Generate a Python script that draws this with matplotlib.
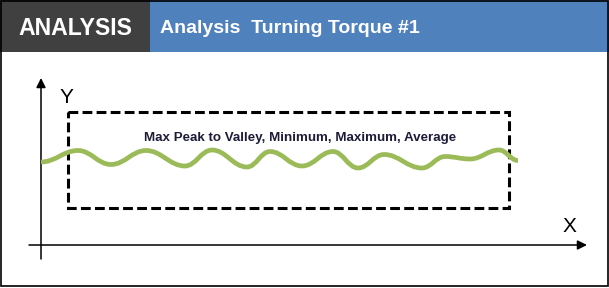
import matplotlib
matplotlib.use("Agg")
import matplotlib.pyplot as plt
from matplotlib.patches import Rectangle, PathPatch
from matplotlib.path import Path
from matplotlib.transforms import Affine2D

W, H = 609, 288

# Header texts
badge_text = "ANALYSIS"
title_text = "Analysis  Turning Torque #1"
note_text = "Max Peak to Valley, Minimum, Maximum, Average"
x_label = "X"
y_label = "Y"

# Torque trace turning points (x along the X axis, y above the X axis)
wave_x = [0, 37, 70, 105, 144, 171, 206, 229, 261, 292, 317, 343, 381, 404,
          429, 458, 477]
wave_y = [83, 94.5, 80.5, 94.5, 79, 95, 78, 93.5, 79, 93.5, 77, 90.5, 77,
          88.5, 86, 95, 84.5]

# Evaluation window [x0, x1] x [y0, y1]
window_x = [26.7, 468]
window_y = [37, 133]

DARK = "#404040"
BLUE = "#4F81BD"
GREEN = "#9BBB59"
FONT = "Liberation Sans"

fig = plt.figure(figsize=(W / 100, H / 100), dpi=100)
fig.patch.set_facecolor("white")

# pixel transform with top-left origin for the frame and header
px = Affine2D().scale(1 / W, -1 / H).translate(0, 1) + fig.transFigure

fig.add_artist(Rectangle((0, 0), 150, 52, transform=px, facecolor=DARK,
                         edgecolor="none"))
fig.add_artist(Rectangle((150, 0), W - 150, 52, transform=px, facecolor=BLUE,
                         edgecolor="none"))
fig.add_artist(Rectangle((0.6, 0.8), 607.8, 285.6, transform=px,
                         facecolor="none", edgecolor="black", lw=1.2))

fig.text(75, 35, badge_text, transform=px, ha="center", va="baseline",
         color="white", fontsize=16.6, fontweight="bold", family=FONT)
fig.text(160.5, 33, title_text, transform=px, ha="left", va="baseline",
         color="white", fontsize=14, fontweight="bold", family=FONT)

# chart area: origin where the axes cross
ax = fig.add_axes([0, 0, 1, 1])
ax.set_xlim(-41, W - 41)
ax.set_ylim(245 - H, 245)
ax.axis("off")

# axes with arrow heads
ax.annotate("", xy=(0, 167), xytext=(0, -14),
            arrowprops=dict(arrowstyle="-|>", lw=1.1, color="black",
                            mutation_scale=14, shrinkA=0, shrinkB=0))
ax.annotate("", xy=(546, 0), xytext=(-12, 0),
            arrowprops=dict(arrowstyle="-|>", lw=1.1, color="black",
                            mutation_scale=14, shrinkA=0, shrinkB=0))
ax.text(25, 142, y_label, ha="center", va="baseline", fontsize=15,
        family=FONT, color="black")
ax.text(528, 13.3, x_label, ha="center", va="baseline", fontsize=15,
        family=FONT, color="black")

# evaluation window
ax.plot([window_x[0], window_x[1], window_x[1], window_x[0], window_x[0]],
        [window_y[1], window_y[1], window_y[0], window_y[0], window_y[1]],
        color="black", lw=2.2, linestyle=(0, (3.2, 1.4)),
        solid_joinstyle="miter", dash_joinstyle="miter", zorder=2)

ax.text(259.5, 104, note_text, ha="center", va="baseline", fontsize=9.6,
        fontweight="bold", family=FONT, color="#1c1c38", zorder=4)

# torque trace: smooth cubic segments between turning points,
# level tangents at every turning point
verts = [(wave_x[0], wave_y[0])]
codes = [Path.MOVETO]
for i in range(1, len(wave_x)):
    x0, y0 = wave_x[i - 1], wave_y[i - 1]
    x1, y1 = wave_x[i], wave_y[i]
    k = 0.4 * (x1 - x0)
    verts += [(x0 + k, y0), (x1 - k, y1), (x1, y1)]
    codes += [Path.CURVE4] * 3
ax.add_patch(PathPatch(Path(verts, codes), facecolor="none",
                       edgecolor=GREEN, lw=3.4, capstyle="butt", zorder=3))

fig.savefig("out.png", dpi=100)
